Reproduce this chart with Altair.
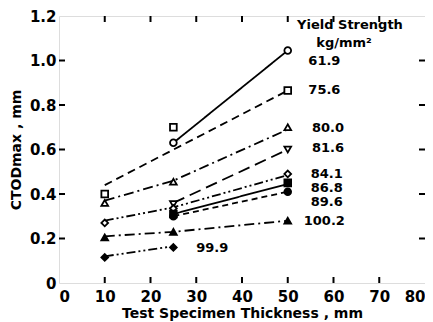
import altair as alt
import pandas as pd

FONT = "DejaVu Sans"

# Series (yield strength, kg/mm2)
series = ["61.9", "75.6", "80.0", "81.6", "84.1", "86.8", "89.6", "100.2", "99.9"]
shapes = ["circle", "square", "triangle-up", "triangle-down", "diamond",
          "square", "circle", "triangle-up", "diamond"]
filled = [False, False, False, False, False, True, True, True, True]
dashes = [[1, 0], [8, 5], [10, 4, 2, 4], [12, 6], [9, 3, 2, 3, 2, 3],
          [1, 0], [6, 4], [10, 4, 2, 4], [9, 3, 2, 3, 2, 3]]

# Measured points
pt_series = ["61.9", "61.9",
             "75.6", "75.6", "75.6",
             "80.0", "80.0", "80.0",
             "81.6", "81.6",
             "84.1", "84.1", "84.1",
             "86.8", "86.8",
             "89.6", "89.6",
             "100.2", "100.2", "100.2",
             "99.9", "99.9"]
pt_x = [25, 50,
        10, 25, 50,
        10, 25, 50,
        25, 50,
        10, 25, 50,
        25, 50,
        25, 50,
        10, 25, 50,
        10, 25]
pt_y = [0.63, 1.045,
        0.40, 0.70, 0.865,
        0.36, 0.455, 0.70,
        0.355, 0.60,
        0.27, 0.335, 0.49,
        0.31, 0.45,
        0.30, 0.41,
        0.205, 0.23, 0.28,
        0.115, 0.16]

# Trend lines
ln_series = ["61.9", "61.9",
             "75.6", "75.6",
             "80.0", "80.0", "80.0",
             "81.6", "81.6",
             "84.1", "84.1", "84.1",
             "86.8", "86.8",
             "89.6", "89.6",
             "100.2", "100.2", "100.2",
             "99.9", "99.9"]
ln_x = [25, 50,
        10, 50,
        10, 25, 50,
        25, 50,
        10, 25, 50,
        25, 50,
        25, 50,
        10, 25, 50,
        10, 25]
ln_y = [0.63, 1.045,
        0.44, 0.865,
        0.37, 0.46, 0.69,
        0.36, 0.60,
        0.28, 0.34, 0.485,
        0.31, 0.445,
        0.30, 0.41,
        0.21, 0.23, 0.28,
        0.12, 0.165]

# Series labels
lab_text = ["61.9", "75.6", "80.0", "81.6", "84.1", "86.8", "89.6", "100.2", "99.9"]
lab_x = [54.5, 54.5, 55.3, 55.3, 55.0, 55.0, 55.0, 53.5, 30.0]
lab_y = [1.0, 0.867, 0.697, 0.607, 0.49, 0.427, 0.364, 0.279, 0.157]

# Legend title text
head_text = ["Yield Strength", "kg/mm²"]
head_x = [63.6, 62.3]
head_y = [1.16, 1.08]

# Inward ticks
xticks = [10, 20, 30, 40, 50, 60, 70]
yticks = [0.2, 0.4, 0.6, 0.8, 1.0]

W, H = 366, 267

pts = pd.DataFrame({"series": pt_series, "x": pt_x, "y": pt_y})
lns = pd.DataFrame({"series": ln_series, "x": ln_x, "y": ln_y})
labs = pd.DataFrame({"t": lab_text, "x": lab_x, "y": lab_y})
heads = pd.DataFrame({"t": head_text, "x": head_x, "y": head_y})
open_series = [s for s, f in zip(series, filled) if not f]
pts["open"] = pts["series"].isin(open_series)

xs = alt.Scale(domain=[0, 80], nice=False)
ys = alt.Scale(domain=[0, 1.2], nice=False)

xax = alt.Axis(values=list(range(0, 90, 10)), tickSize=0, domain=False, grid=False,
               labelFont=FONT, labelFontSize=15, labelFontWeight="bold", labelColor="black",
               labelPadding=6, title="Test Specimen Thickness , mm",
               titleFont=FONT, titleFontSize=14, titleFontWeight="bold", titleColor="black",
               titlePadding=2)
yax = alt.Axis(values=[0, 0.2, 0.4, 0.6, 0.8, 1.0, 1.2], tickSize=0, domain=False, grid=False,
               labelExpr="datum.value == 0 ? '0' : format(datum.value, '.1f')",
               labelFont=FONT, labelFontSize=15, labelFontWeight="bold", labelColor="black",
               labelPadding=3, title="CTODmax , mm",
               titleFont=FONT, titleFontSize=14, titleFontWeight="bold", titleColor="black",
               titlePadding=6)

lines = alt.Chart(lns).mark_line(color="black", strokeWidth=1.8).encode(
    x=alt.X("x:Q", scale=xs, axis=xax),
    y=alt.Y("y:Q", scale=ys, axis=yax),
    detail="series:N",
    strokeDash=alt.StrokeDash("series:N", scale=alt.Scale(domain=series, range=dashes), legend=None),
)

points = alt.Chart(pts).mark_point(color="black", strokeWidth=1.8, size=45, opacity=1).encode(
    x=alt.X("x:Q", scale=xs),
    y=alt.Y("y:Q", scale=ys),
    shape=alt.Shape("series:N", scale=alt.Scale(domain=series, range=shapes), legend=None),
    fill=alt.condition("datum.open", alt.value("white"), alt.value("black")),
)

labels = alt.Chart(labs).mark_text(align="left", baseline="middle", font=FONT, fontSize=13,
                                   fontWeight="bold", color="black").encode(
    x=alt.X("x:Q", scale=xs), y=alt.Y("y:Q", scale=ys), text="t:N")

header = alt.Chart(heads).mark_text(align="center", baseline="middle", font=FONT, fontSize=13,
                                    fontWeight="bold", color="black").encode(
    x=alt.X("x:Q", scale=xs), y=alt.Y("y:Q", scale=ys), text="t:N")

xt = pd.DataFrame({"x": xticks})
yt = pd.DataFrame({"y": yticks})
tick_bottom = alt.Chart(xt).mark_rule(color="black", strokeWidth=2).encode(
    x=alt.X("x:Q", scale=xs), y=alt.value(H), y2=alt.value(H - 6))
tick_top = alt.Chart(xt).mark_rule(color="black", strokeWidth=2).encode(
    x=alt.X("x:Q", scale=xs), y=alt.value(0), y2=alt.value(6))
tick_left = alt.Chart(yt).mark_rule(color="black", strokeWidth=2).encode(
    y=alt.Y("y:Q", scale=ys), x=alt.value(0), x2=alt.value(6))
tick_right = alt.Chart(yt).mark_rule(color="black", strokeWidth=2).encode(
    y=alt.Y("y:Q", scale=ys), x=alt.value(W), x2=alt.value(W - 6))

chart = alt.layer(lines, points, labels, header, tick_bottom, tick_top, tick_left, tick_right).properties(
    width=W, height=H,
    autosize=alt.AutoSizeParams(type="none"),
    padding={"left": 51, "top": 8, "right": 0, "bottom": 39},
).configure_view(stroke="black", strokeWidth=2.2).configure(background="white")

chart.save("out.html", embed_options={"renderer": "svg", "actions": False})
